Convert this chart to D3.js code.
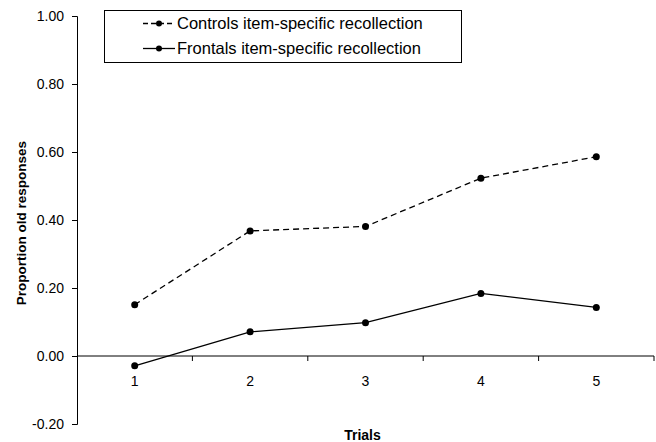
<!DOCTYPE html>
<html>
<head>
<meta charset="utf-8">
<script src="https://cdn.jsdelivr.net/npm/d3@7"></script>
<style>
  body { margin: 0; background: #fff; }
  svg { display: block; font-family: "Liberation Sans", Arial, sans-serif; }
</style>
</head>
<body>
<svg id="chart" width="656" height="442"></svg>
<script>
const trials = [`1`, `2`, `3`, `4`, `5`];
const controls = [0.151, 0.368, 0.381, 0.523, 0.586];
const frontals = [-0.029, 0.071, 0.098, 0.184, 0.143];
const yTicks = [-0.2, 0, 0.2, 0.4, 0.6, 0.8, 1.0];
const seriesNames = [`Controls item-specific recollection`, `Frontals item-specific recollection`];

const svg = d3.select(`#chart`);
const plotLeft = 77, plotRight = 654, plotTop = 16, plotBottom = 424;

const x = d3.scaleBand().domain(trials).range([plotLeft, plotRight]);
const y = d3.scaleLinear().domain([-0.2, 1.0]).range([plotBottom, plotTop]);

// y axis (plain hyphen for negatives, like the original)
const yAxis = svg.append(`g`)
  .attr(`transform`, `translate(${plotLeft},0)`)
  .call(d3.axisLeft(y).tickValues(yTicks).tickFormat(d => d.toFixed(2)).tickSize(5).tickPadding(8));
yAxis.selectAll(`text`).style(`font-size`, `14px`).attr(`fill`, `#000`);

// x axis sits at zero
const xAxis = svg.append(`g`)
  .attr(`transform`, `translate(0,${y(0)})`)
  .call(d3.axisBottom(x).tickSize(0).tickPadding(20));
xAxis.select(`.domain`).remove();
xAxis.selectAll(`text`).style(`font-size`, `14px`).attr(`fill`, `#000`);
svg.append(`line`)
  .attr(`x1`, plotLeft).attr(`x2`, plotRight)
  .attr(`y1`, y(0)).attr(`y2`, y(0))
  .attr(`stroke`, `#000`);
// tick marks at band boundaries
svg.selectAll(`.xtick`)
  .data(trials)
  .enter().append(`line`)
    .attr(`class`, `xtick`)
    .attr(`x1`, d => x(d) + x.bandwidth())
    .attr(`x2`, d => x(d) + x.bandwidth())
    .attr(`y1`, y(0))
    .attr(`y2`, y(0) + 5)
    .attr(`stroke`, `#000`);

const line = d3.line()
  .x((d, i) => x(trials[i]) + x.bandwidth() / 2)
  .y(d => y(d));

const drawSeries = (values, dash) => {
  svg.append(`path`)
    .datum(values)
    .attr(`d`, line)
    .attr(`fill`, `none`)
    .attr(`stroke`, `#000`)
    .attr(`stroke-width`, 1.3)
    .attr(`stroke-dasharray`, dash);
  svg.append(`g`).selectAll(`circle`)
    .data(values)
    .enter().append(`circle`)
      .attr(`cx`, (d, i) => x(trials[i]) + x.bandwidth() / 2)
      .attr(`cy`, d => y(d))
      .attr(`r`, 3.5)
      .attr(`fill`, `#000`);
};

drawSeries(controls, `6,4`);
drawSeries(frontals, null);

// axis titles
svg.append(`text`)
  .attr(`x`, (plotLeft + plotRight) / 2 - 3)
  .attr(`y`, 440)
  .attr(`text-anchor`, `middle`)
  .style(`font-size`, `14px`)
  .style(`font-weight`, `bold`)
  .text(`Trials`);
svg.append(`text`)
  .attr(`transform`, `translate(26,223) rotate(-90)`)
  .attr(`text-anchor`, `middle`)
  .style(`font-size`, `13.5px`)
  .style(`font-weight`, `bold`)
  .text(`Proportion old responses`);

// legend
const legend = svg.append(`g`);
legend.append(`rect`)
  .attr(`x`, 104.5).attr(`y`, 10.5)
  .attr(`width`, 357).attr(`height`, 52)
  .attr(`fill`, `#fff`)
  .attr(`stroke`, `#000`);
const rows = legend.selectAll(`.row`)
  .data(seriesNames)
  .enter().append(`g`)
    .attr(`transform`, (d, i) => `translate(0,${23.5 + i * 25})`);
rows.append(`line`)
  .attr(`x1`, 143).attr(`x2`, 175)
  .attr(`stroke`, `#000`)
  .attr(`stroke-width`, 1.3)
  .attr(`stroke-dasharray`, (d, i) => i === 0 ? `5,3` : null);
rows.append(`circle`)
  .attr(`cx`, 159).attr(`r`, 3)
  .attr(`fill`, `#000`);
rows.append(`text`)
  .attr(`x`, 177)
  .attr(`dy`, `0.35em`)
  .style(`font-size`, `16.5px`)
  .text(d => d);
</script>
</body>
</html>
